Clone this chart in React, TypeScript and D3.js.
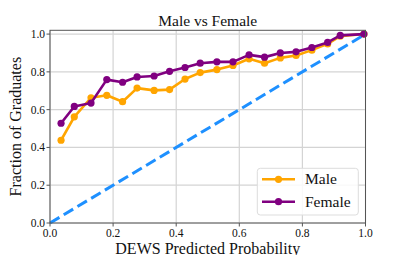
import * as d3 from 'd3'

const probs = [0.035, 0.077, 0.13, 0.18, 0.23, 0.276, 0.33, 0.379, 0.428, 0.476, 0.529, 0.58, 0.631, 0.68, 0.73, 0.78, 0.83, 0.88, 0.92, 0.995]
const male = [0.438, 0.562, 0.663, 0.676, 0.642, 0.714, 0.702, 0.706, 0.762, 0.796, 0.812, 0.834, 0.869, 0.846, 0.874, 0.887, 0.915, 0.948, 0.989, 1.0]
const female = [0.528, 0.617, 0.635, 0.759, 0.745, 0.773, 0.778, 0.803, 0.823, 0.846, 0.853, 0.853, 0.89, 0.878, 0.9, 0.906, 0.929, 0.956, 0.993, 1.0]
const ticks = [0, 0.2, 0.4, 0.6, 0.8, 1.0]

const W = 407, H = 255
const margin = { top: 30.3, right: 41.5, bottom: 32, left: 50 }
const font = '"Liberation Serif", serif'

const App = () => {
  const x = d3.scaleLinear().domain([0, 1]).range([margin.left, W - margin.right])
  const y = d3.scaleLinear().domain([0, 1.02]).range([H - margin.bottom, margin.top])

  const line = d3.line<number>()
    .x((d, i) => x(probs[i]))
    .y(d => y(d))

  const series = [
    { name: 'Male', values: male, color: '#ffa500' },
    { name: 'Female', values: female, color: '#800080' },
  ]

  const x0 = x(0), x1 = x(1), y0 = y(0), yTop = margin.top

  return (
    <svg width={W} height={H} style={{ position: 'absolute', left: 0, top: 0 }}>
      <rect x={0} y={0} width={W} height={H} fill="white" />
      {/* grid */}
      {ticks.map(t => (
        <g key={'g' + t}>
          <line x1={x(t)} x2={x(t)} y1={yTop} y2={y0} stroke="#d4d4d4" strokeWidth={1.2} />
          <line x1={x0} x2={x1} y1={y(t)} y2={y(t)} stroke="#d4d4d4" strokeWidth={1.2} />
        </g>
      ))}
      {/* diagonal */}
      <line x1={x(0)} y1={y(0)} x2={x(1)} y2={y(1)} stroke="#1e90ff" strokeWidth={3} strokeDasharray="11,5" />
      {series.map(s => (
        <g key={s.name}>
          <path d={line(s.values) || ''} fill="none" stroke={s.color} strokeWidth={2.6} strokeLinejoin="round" />
          {s.values.map((v, i) => (
            <circle key={i} cx={x(probs[i])} cy={y(v)} r={3.6} fill={s.color} />
          ))}
        </g>
      ))}
      {/* spines */}
      <rect x={x0} y={yTop} width={x1 - x0} height={y0 - yTop} fill="none" stroke="#555" strokeWidth={1} />
      {/* ticks */}
      {ticks.map(t => (
        <g key={'t' + t} fontFamily={font} fontSize={11.5} fill="#111">
          <line x1={x(t)} x2={x(t)} y1={y0} y2={y0 + 3.5} stroke="#555" />
          <text x={x(t)} y={y0 + 14} textAnchor="middle">{d3.format('.1f')(t)}</text>
          <line x1={x0 - 3.5} x2={x0} y1={y(t)} y2={y(t)} stroke="#555" />
          <text x={x0 - 5} y={y(t) + 4} textAnchor="end">{d3.format('.1f')(t)}</text>
        </g>
      ))}
      <text x={(x0 + x1) / 2} y={25.5} textAnchor="middle" fontFamily={font} fontSize={15.5} fill="#111">Male vs Female</text>
      <text x={(x0 + x1) / 2} y={254} textAnchor="middle" fontFamily={font} fontSize={16} fill="#111">DEWS Predicted Probability</text>
      <text transform={`translate(21,${(yTop + y0) / 2}) rotate(-90)`} textAnchor="middle" fontFamily={font} fontSize={16} fill="#111">Fraction of Graduates</text>
      {/* legend */}
      <g>
        <rect x={257.3} y={168.3} width={101} height={46.7} rx={3} fill="white" fillOpacity={0.85} stroke="#ddd" />
        {series.map((s, i) => {
          const ly = 179.3 + i * 22.4
          return (
            <g key={'l' + s.name}>
              <line x1={262} x2={295} y1={ly} y2={ly} stroke={s.color} strokeWidth={2.6} />
              <circle cx={278.5} cy={ly} r={3.6} fill={s.color} />
              <text x={305} y={ly + 5} fontFamily={font} fontSize={15.5} fill="#111">{s.name}</text>
            </g>
          )
        })}
      </g>
    </svg>
  )
}

export default App
